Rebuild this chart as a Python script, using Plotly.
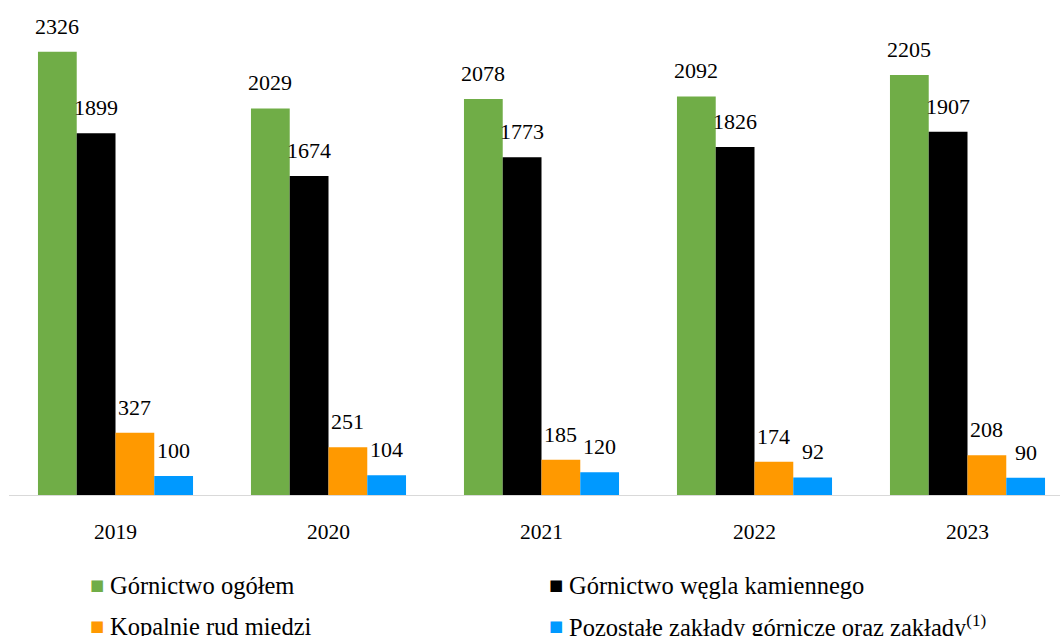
import plotly.graph_objects as go

# Liczba zakładów / podmiotów w latach 2019-2023
years = ["2019", "2020", "2021", "2022", "2023"]
gornictwo_ogolem = [2326, 2029, 2078, 2092, 2205]
wegiel_kamienny = [1899, 1674, 1773, 1826, 1907]
rudy_miedzi = [327, 251, 185, 174, 208]
pozostale = [100, 104, 120, 92, 90]

series = [
    ("Górnictwo ogółem", gornictwo_ogolem, "#70ad47"),
    ("Górnictwo węgla kamiennego", wegiel_kamienny, "#000000"),
    ("Kopalnie rud miedzi", rudy_miedzi, "#ff9900"),
    ("Pozostałe zakłady górnicze oraz zakłady<sup>(1)</sup>", pozostale, "#0099ff"),
]

FONT = "Times New Roman"
W, H = 1060, 636
ML, MB = 9, 141
PW, PH = W - ML, H - MB
BARGAP = 0.272
n = len(series)
bw = (1 - BARGAP) / n
xs = list(range(len(years)))

fig = go.Figure()
annotations = []
for i, (name, vals, color) in enumerate(series):
    fig.add_trace(go.Bar(
        x=xs, y=vals, name=name, marker=dict(color=color, line=dict(width=0)),
        showlegend=False,
    ))
    off = (i - (n - 1) / 2) * bw
    for g, v in zip(xs, vals):
        annotations.append(dict(
            x=g + off, y=v, xref="x", yref="y", text=str(v), showarrow=False,
            yanchor="bottom", xanchor="center", yshift=11,
            font=dict(family=FONT, size=22, color="#000000"),
        ))

# legend drawn as two columns: colour swatch + label (pixel positions -> plot-area fractions)
legend_pos = [(108, 585), (567, 585), (108, 626), (567, 626)]
for (name, vals, color), (px, py) in zip(series, legend_pos):
    yp = 1 - py / PH
    annotations.append(dict(
        x=(px - 2 - ML) / PW, y=yp, xref="paper", yref="paper",
        xanchor="right", yanchor="middle", showarrow=False,
        text="■", font=dict(family="DejaVu Sans", size=15, color=color),
    ))
    annotations.append(dict(
        x=(px - ML) / PW, y=yp, xref="paper", yref="paper",
        xanchor="left", yanchor="middle", showarrow=False,
        text=name, font=dict(family=FONT, size=24.5, color="#000000"),
    ))

fig.update_layout(
    width=W, height=H, autosize=False,
    margin=dict(l=ML, r=0, t=0, b=MB),
    font=dict(family=FONT, color="#000000"),
    paper_bgcolor="white", plot_bgcolor="white",
    barmode="group", bargap=BARGAP, bargroupgap=0,
    annotations=annotations,
    xaxis=dict(
        tickmode="array", tickvals=xs, ticktext=years,
        range=[-0.5, -0.5 + PW / 213],
        showline=True, linecolor="#d9d9d9", linewidth=1,
        showgrid=False, zeroline=False, ticks="",
        ticklabelstandoff=17,
        tickfont=dict(family=FONT, size=21.5, color="#000000"),
    ),
    yaxis=dict(range=[0, 2598], visible=False, showgrid=False, zeroline=False),
)

fig.write_html("out.html")
